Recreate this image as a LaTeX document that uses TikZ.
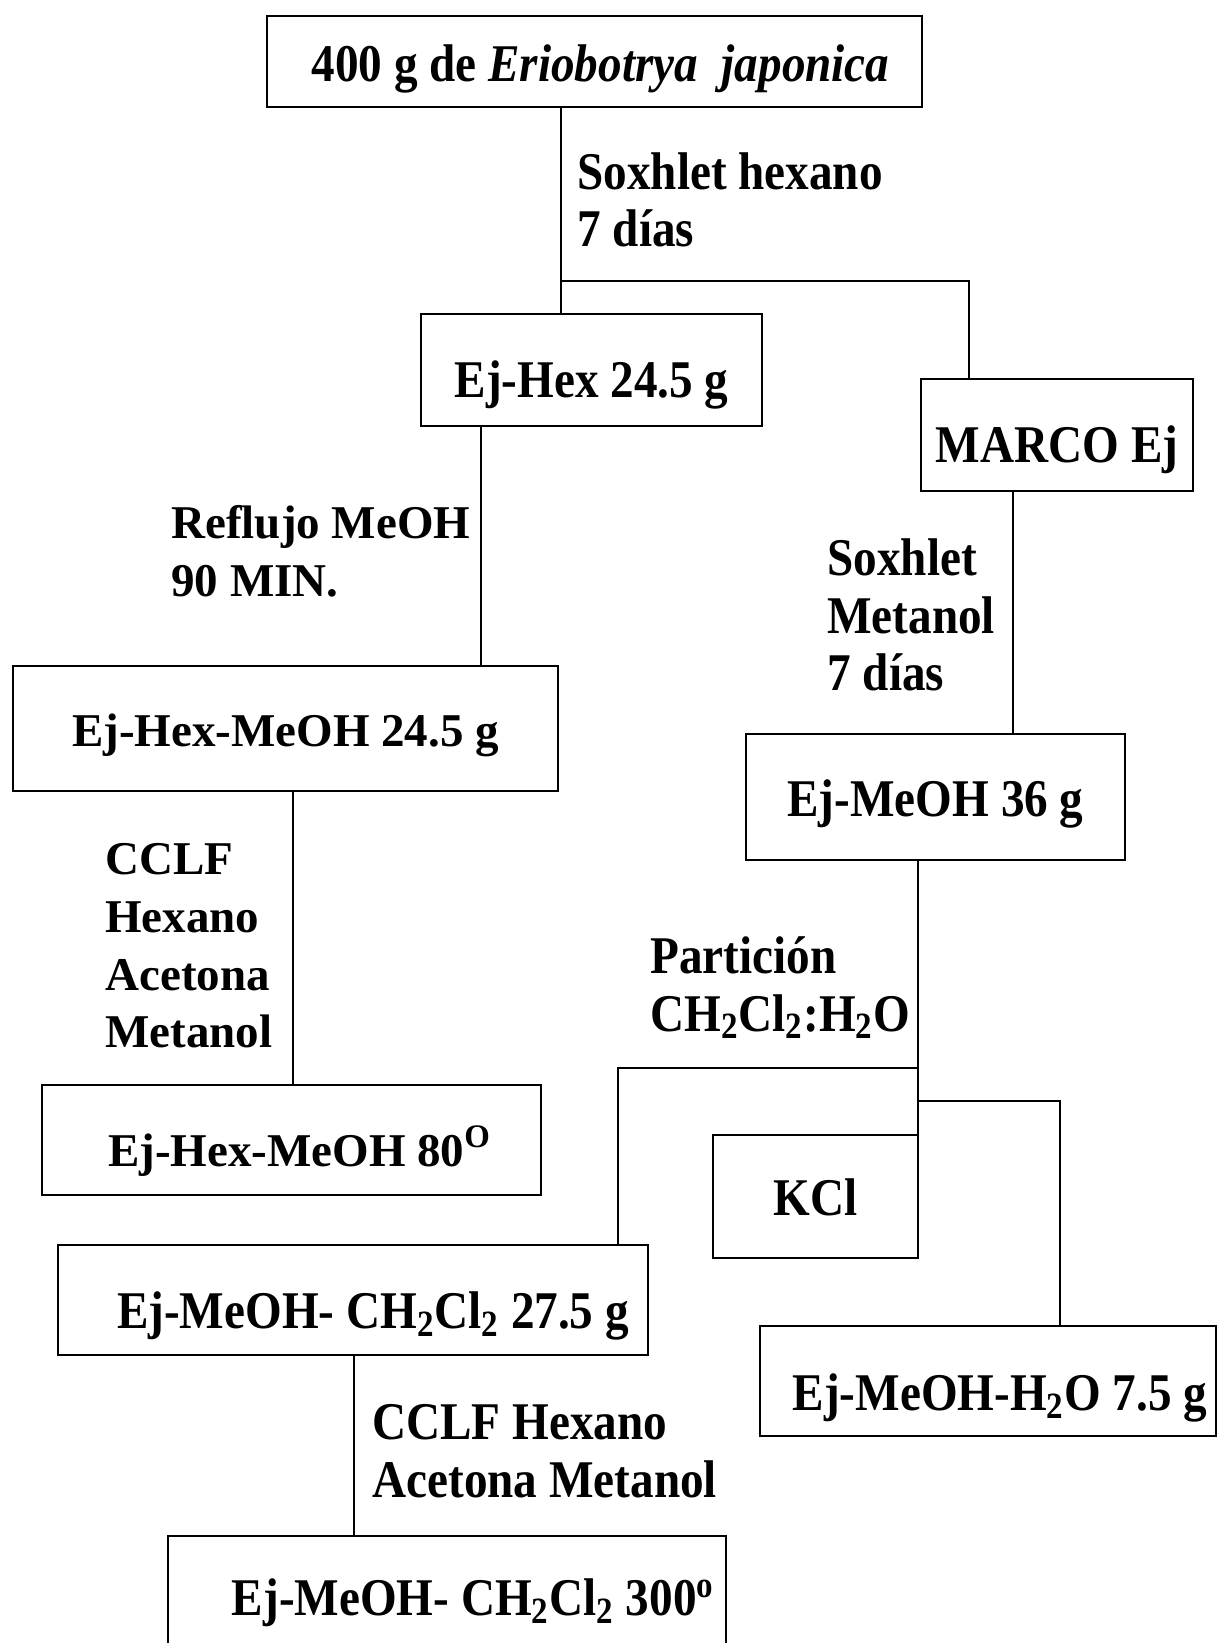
\documentclass[tikz,border=0pt]{standalone}
\usepackage{fontspec}
\setmainfont{Liberation Serif}[FakeStretch=0.89]
\newfontfamily\widef{Liberation Serif}
\newcommand\nf{\bfseries\fontsize{26.5}{28.8}\selectfont}
\newcommand\wf{\widef\bfseries\fontsize{23.5}{28.8}\selectfont}
\begin{document}
\begin{tikzpicture}[x=0.5pt,y=-0.5pt,
  box/.style={draw, line width=1.3pt, inner sep=0pt, font=\nf},
  tv/.style={text height=#1, text depth=0pt},
  conn/.style={line width=1pt},
  lab/.style={anchor=west, align=left, inner sep=0pt, font=\nf}]
\useasboundingbox (0,0) rectangle (1219,1643);
% boxes
\node[box, tv=19.6pt, minimum width=327.5pt, minimum height=45.5pt] (top) at (594.5,61.5) {\hspace*{6pt}400 g de \textit{Eriobotrya\ \ japonica}};
\node[box, tv=27pt, minimum width=170.5pt, minimum height=56pt] (hex) at (591.5,370) {Ej-Hex 24.5 g};
\node[box, tv=27pt, minimum width=136pt, minimum height=56pt] (marco) at (1057,435) {MARCO Ej};
\node[box, font=\wf, tv=17.6pt, minimum width=272.5pt, minimum height=62.5pt] (hexmeoh) at (285.5,728.5) {Ej-Hex-MeOH 24.5 g};
\node[box, font=\wf, tv=26pt, minimum width=249.5pt, minimum height=55pt] (hex80) at (291.5,1140) {\hspace*{8pt}Ej-Hex-MeOH 80\textsuperscript{O}};
\node[box, tv=19.6pt, minimum width=189.5pt, minimum height=63pt] (meoh) at (935.5,797) {Ej-MeOH 36 g};
\node[box, tv=18.6pt, minimum width=102.5pt, minimum height=61.5pt] (kcl) at (815.5,1196.5) {KCl};
\node[box, tv=28.6pt, minimum width=295pt, minimum height=55pt] (dcm) at (353,1300) {\hspace*{20pt}Ej-MeOH- CH\textsubscript{2}Cl\textsubscript{2} 27.5 g};
\node[box, tv=29.6pt, minimum width=228pt, minimum height=55pt] (water) at (988,1381) {\hspace*{12pt}Ej-MeOH-H\textsubscript{2}O 7.5 g};
\node[box, minimum width=279pt, minimum height=67pt] (d300) at (447,1603) {\hspace*{26pt}Ej-MeOH- CH\textsubscript{2}Cl\textsubscript{2} 300\textsuperscript{o}};
% labels
\node[lab] (l1) at (577,200) {Soxhlet hexano\\7 días};
\node[lab, font=\wf] (l2) at (171,551) {Reflujo MeOH\\90 MIN.};
\node[lab, font=\wf] (l3) at (105,946) {CCLF\\Hexano\\Acetona\\Metanol};
\node[lab] (l4) at (827,615) {Soxhlet\\Metanol\\7 días};
\node[lab] (l5) at (650,988) {Partición\\CH\textsubscript{2}Cl\textsubscript{2}:H\textsubscript{2}O};
\node[lab] (l6) at (372,1451) {CCLF Hexano\\Acetona Metanol};
% connectors
\coordinate (j1) at (561,281);
\coordinate (j2) at (969,281);
\draw[conn] (j1 |- top.south) -- (j1 |- hex.north);
\draw[conn] (j1) -- (j2) -- (j2 |- marco.north);
\coordinate (c2) at (481,0);
\draw[conn] (c2 |- hex.south) -- (c2 |- hexmeoh.north);
\coordinate (c3) at (293,0);
\draw[conn] (c3 |- hexmeoh.south) -- (c3 |- hex80.north);
\coordinate (c4) at (1013,0);
\draw[conn] (c4 |- marco.south) -- (c4 |- meoh.north);
\coordinate (c5) at (918,1068);
\draw[conn] (c5 |- meoh.south) -- (c5 |- kcl.north);
\coordinate (c6) at (618,1068);
\draw[conn] (c5) -- (c6) -- (c6 |- dcm.north);
\coordinate (c7) at (918,1101);
\coordinate (c8) at (1060,1101);
\draw[conn] (c7) -- (c8) -- (c8 |- water.north);
\coordinate (c9) at (354,0);
\draw[conn] (c9 |- dcm.south) -- (c9 |- d300.north);
\end{tikzpicture}
\end{document}
